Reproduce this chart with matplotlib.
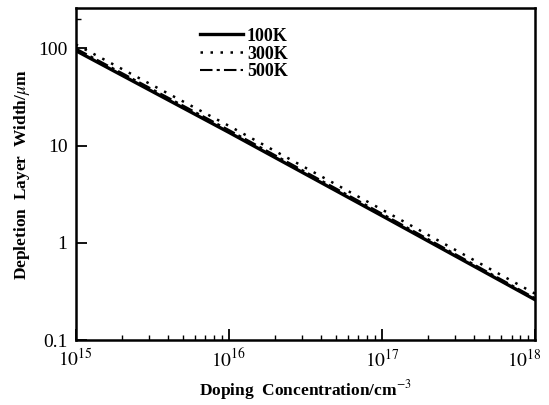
import matplotlib
matplotlib.use("Agg")
import matplotlib.pyplot as plt
import matplotlib.transforms as mtransforms
from matplotlib.ticker import FixedLocator, NullFormatter, LogLocator

plt.rcParams['font.family'] = ['Liberation Serif', 'DejaVu Serif']
plt.rcParams['mathtext.fontset'] = 'stix'

doping = [1e15, 1e16, 1e17, 1e18]
w_100K = [95, 13.7, 1.9, 0.26]
w_300K = [110, 16.0, 2.2, 0.30]
w_500K = [100, 14.5, 2.0, 0.27]
labels = ['100K', '300K', '500K']
xticks = [1e15, 1e16, 1e17, 1e18]
xticklabels = ['$10^{15}$', '$10^{16}$', '$10^{17}$', '$10^{18}$']
yticks = [0.1, 1, 10, 100]
yticklabels = ['0.1', '1', '10', '100']

fig = plt.figure(figsize=(5.49, 4.05), dpi=100)
ax = fig.add_axes([0.138, 0.160, 0.837, 0.820])

ax.plot(doping, w_100K, color='black', lw=2.4, ls='-', label=labels[0])
ax.plot(doping, w_300K, color='black', lw=1.8, ls=(0, (1, 3)), label=labels[1])
ax.plot(doping, w_500K, color='black', lw=1.5, ls=(0, (6, 2, 1.5, 2)), label=labels[2])

ax.set_xscale('log')
ax.set_yscale('log')
ax.set_xlim(1e15, 1e18)
ax.set_ylim(0.1, 260)

ax.xaxis.set_major_locator(FixedLocator(xticks))
ax.set_xticklabels(xticklabels)
ax.xaxis.set_minor_locator(LogLocator(base=10, subs=range(2, 10)))
ax.xaxis.set_minor_formatter(NullFormatter())
ax.yaxis.set_major_locator(FixedLocator(yticks))
ax.set_yticklabels(yticklabels)
ax.yaxis.set_minor_locator(FixedLocator([200]))
ax.yaxis.set_minor_formatter(NullFormatter())

ax.tick_params(which='major', direction='in', length=8, width=1.3, labelsize=14, top=False, right=False, pad=6)
ax.tick_params(which='minor', direction='in', length=3.5, width=1.0, top=False, right=False)
for s in ax.spines.values():
    s.set_linewidth(1.8)

# keep the last x tick label inside the canvas
last = ax.get_xticklabels()[-1]
last.set_transform(last.get_transform() + mtransforms.ScaledTranslation(-8/72, 0, fig.dpi_scale_trans))

ax.set_xlabel('Doping  Concentration/cm$^{-3}$', fontsize=12.5, fontweight='bold', labelpad=5)
ax.set_ylabel('Depletion  Layer  Width/$\\mu$m', fontsize=12.5, fontweight='bold', labelpad=4)

leg = ax.legend(loc='upper left', bbox_to_anchor=(0.235, 0.99), frameon=False,
                handlelength=2.4, handletextpad=0.2, labelspacing=0.05,
                prop={'weight': 'bold', 'size': 13})

fig.savefig('out.png', dpi=100)
